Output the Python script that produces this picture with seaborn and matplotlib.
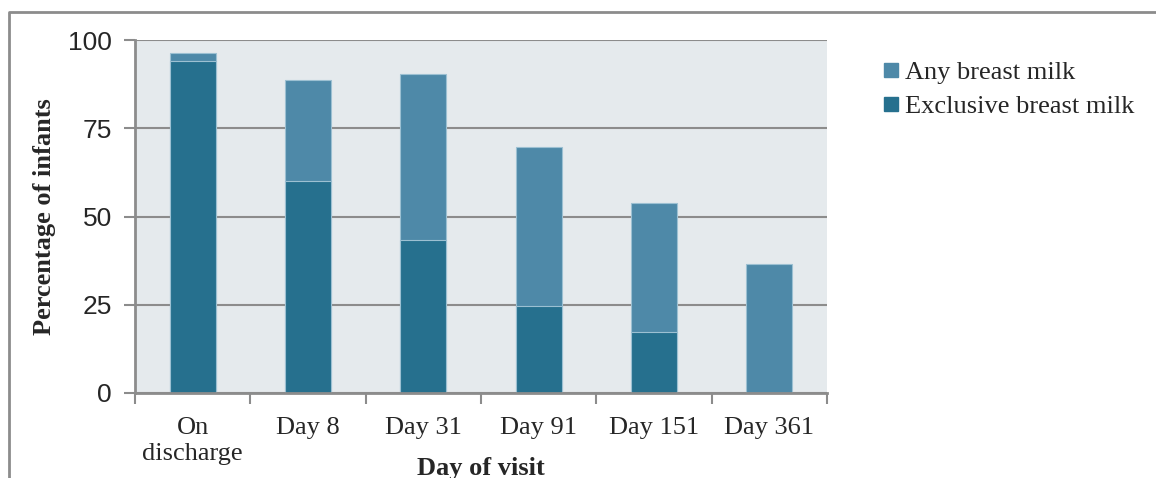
import matplotlib
matplotlib.use("Agg")
import matplotlib.pyplot as plt
from matplotlib.lines import Line2D
import seaborn as sns
import pandas as pd

# Breastfeeding prevalence by visit
visits = ["On\ndischarge", "Day 8", "Day 31", "Day 91", "Day 151", "Day 361"]
any_breast_milk = [96.3, 88.7, 90.4, 69.7, 53.8, 36.5]
exclusive_breast_milk = [94.1, 60.1, 43.3, 24.6, 17.3, 0.0]
series_names = ["Any breast milk", "Exclusive breast milk"]
y_ticks = [0, 25, 50, 75, 100]

ANY_COLOR = "#4E89A8"
EXCL_COLOR = "#26708E"
BG_COLOR = "#E5EAED"
GRID_COLOR = "#8C8C8C"
EDGE_COLOR = "#9CC0D2"

sns.set_theme(style="white")
plt.rcParams["font.family"] = ["Liberation Serif", "DejaVu Serif"]

fig = plt.figure(figsize=(11.56, 4.78), dpi=100)
ax = fig.add_axes([135 / 1156, 85 / 478, 692 / 1156, 353 / 478])
ax.set_facecolor(BG_COLOR)

df = pd.DataFrame({"visit": visits, "any": any_breast_milk,
                   "exclusive": exclusive_breast_milk})

sns.barplot(data=df, x="visit", y="any", order=visits, color=ANY_COLOR,
            width=0.4, edgecolor=EDGE_COLOR, linewidth=0.8, saturation=1,
            ax=ax, zorder=3)
sns.barplot(data=df, x="visit", y="exclusive", order=visits, color=EXCL_COLOR,
            width=0.4, edgecolor=EDGE_COLOR, linewidth=0.8, saturation=1,
            ax=ax, zorder=4)

ax.set_xlim(-0.5, len(visits) - 0.5)
ax.set_ylim(0, 100)
ax.set_yticks(y_ticks)
ax.set_yticklabels([str(t) for t in y_ticks], family="Liberation Sans", fontsize=19)
ax.tick_params(axis="y", length=8, width=1.5, color=GRID_COLOR, pad=8.5, left=True)

# category labels at bar centres, tick marks at category boundaries
ax.set_xticks(range(len(visits)))
ax.set_xticklabels(visits, fontsize=19, linespacing=1.28)
ax.tick_params(axis="x", which="major", length=0, pad=17)
ax.set_xticks([i - 0.5 for i in range(len(visits) + 1)], minor=True)
ax.tick_params(axis="x", which="minor", length=8, width=1.5, color=GRID_COLOR,
               bottom=True)

ax.yaxis.grid(True, color=GRID_COLOR, linewidth=1.5, zorder=1)
ax.set_axisbelow(True)
for side in ("top", "right"):
    ax.spines[side].set_visible(False)
for side in ("left", "bottom"):
    ax.spines[side].set_color(GRID_COLOR)
    ax.spines[side].set_linewidth(2)
    ax.spines[side].set_zorder(5)

ax.set_xlabel("")
ax.set_ylabel("")
fig.text(45 / 1156, 261.5 / 478, "Percentage of infants", rotation=90,
         ha="center", va="center", fontsize=19, fontweight="bold")
fig.text(481 / 1156, 3 / 478, "Day of visit", ha="center", va="baseline",
         fontsize=19, fontweight="bold")

handles = [
    Line2D([], [], marker="s", linestyle="none", markersize=9.5,
           markerfacecolor=ANY_COLOR, markeredgecolor=ANY_COLOR),
    Line2D([], [], marker="s", linestyle="none", markersize=9.5,
           markerfacecolor=EXCL_COLOR, markeredgecolor=EXCL_COLOR),
]
fig.legend(handles, series_names, loc="upper left",
           bbox_to_anchor=(883 / 1156, (478 - 61) / 478), frameon=False,
           fontsize=19, handlelength=0.6, handletextpad=0.25,
           labelspacing=0.38, borderpad=0, borderaxespad=0)

# outer frame
fig.add_artist(Line2D([9 / 1156, 9 / 1156, 1.0], [0.0, 1 - 12 / 478, 1 - 12 / 478],
                      transform=fig.transFigure, color=GRID_COLOR, linewidth=2))

fig.savefig("out.png", dpi=100)
